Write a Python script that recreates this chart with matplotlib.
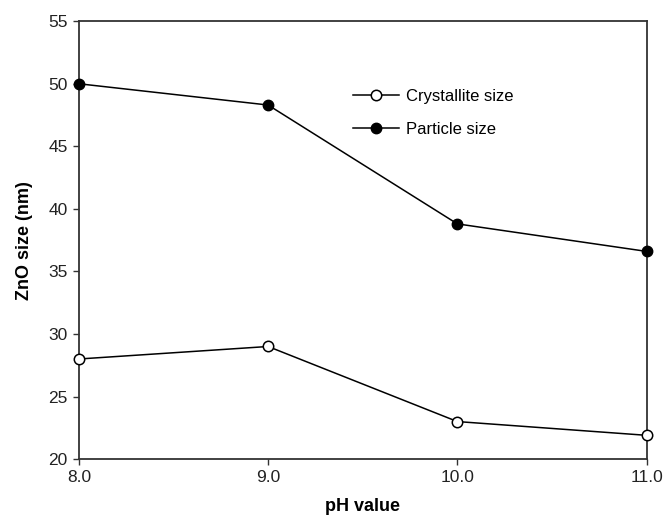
import matplotlib
matplotlib.use("Agg")
import matplotlib.pyplot as plt

plt.rcParams['font.family'] = ['Liberation Sans', 'DejaVu Sans']

ph = [8.0, 9.0, 10.0, 11.0]
crystallite = [28.0, 29.0, 23.0, 21.9]
particle = [50.0, 48.3, 38.8, 36.6]
xticks = [8.0, 9.0, 10.0, 11.0]
yticks = [20, 25, 30, 35, 40, 45, 50, 55]

fig = plt.figure(figsize=(6.68, 5.17), dpi=100)
ax = fig.add_axes([0.118, 0.112, 0.850, 0.847])

ax.plot(ph, crystallite, color='black', lw=1.1, marker='o', ms=7.5,
        mfc='white', mec='black', mew=1.1, label='Crystallite size', clip_on=False, zorder=3)
ax.plot(ph, particle, color='black', lw=1.1, marker='o', ms=7.5,
        mfc='black', mec='black', label='Particle size', clip_on=False, zorder=3)

ax.set_xlim(8.0, 11.0)
ax.set_ylim(20, 55)
ax.set_xticks(xticks)
ax.set_xticklabels(['%.1f' % v for v in xticks])
ax.set_yticks(yticks)

for s in ax.spines.values():
    s.set_linewidth(1.3)
    s.set_color('#333333')
ax.tick_params(direction='out', length=4, width=1.0, color='#333333',
               labelcolor='#222222', labelsize=12.5, top=False, right=False, pad=4)

ax.set_xlabel('pH value', fontsize=13, fontweight='bold', labelpad=9)
ax.set_ylabel('ZnO size (nm)', fontsize=13, fontweight='bold', labelpad=11)

ax.legend(loc='upper left', bbox_to_anchor=(0.482, 0.846), frameon=False,
          borderpad=0, borderaxespad=0,
          fontsize=12, handlelength=2.8, handletextpad=0.4, labelspacing=1.1)

fig.savefig('out.png', dpi=100)
